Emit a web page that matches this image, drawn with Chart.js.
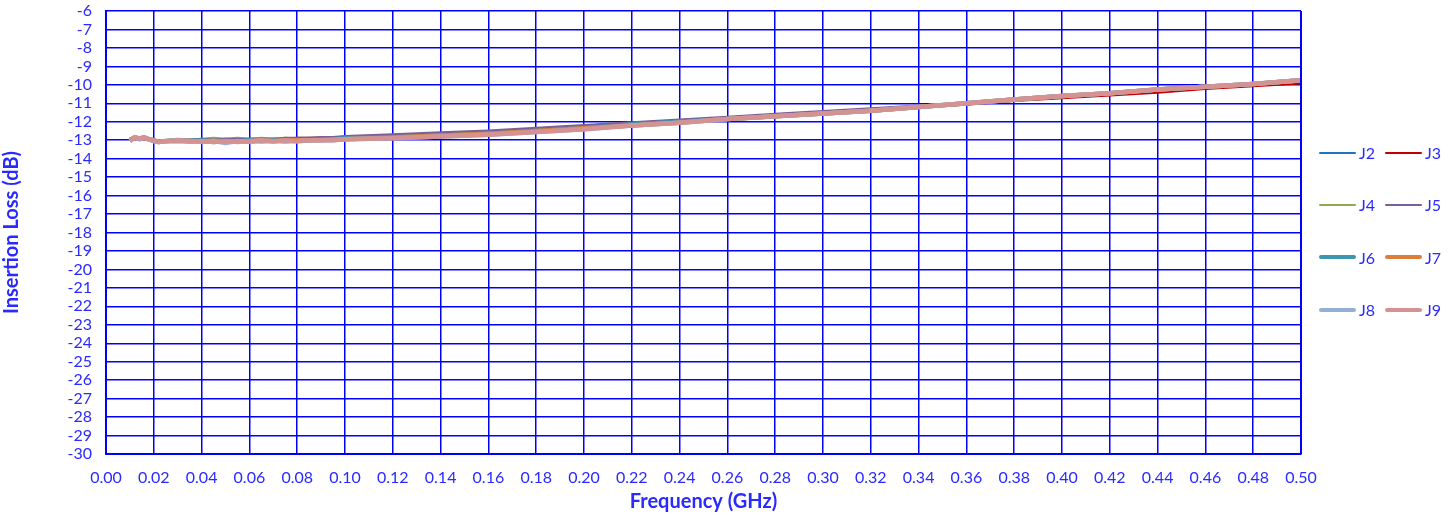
<!DOCTYPE html>
<html>
<head>
<meta charset="utf-8">
<script src="https://cdn.jsdelivr.net/npm/chart.js@4.4.1/dist/chart.umd.min.js"></script>
<style>
    body { margin: 0; background: #ffffff; }
    #wrap { position: relative; width: 1453px; height: 514px; }
    #legendBox { position: absolute; left: 1319px; top: 143px; width: 134px; font-family: Lato, sans-serif; font-size: 16px; color: #2a2aff; }
    .legendItem { position: absolute; height: 20px; line-height: 20px; }
    .legendItem span.mark { position: absolute; left: 0; width: 37px; border-radius: 2px; }
    .legendItem span.txt { position: absolute; left: 40px; top: 0; }
</style>
</head>
<body>
<div id="wrap">
    <canvas id="myChart" width="1453" height="514"></canvas>
    <div id="legendBox"></div>
</div>
<script>
// frequency points (GHz)
const freqList = [0.010,0.012,0.014,0.016,0.018,0.020,0.022,0.025,0.030,0.035,0.040,0.045,0.050,0.055,0.060,0.065,0.070,0.075,0.080,0.085,0.090,0.095,0.100,
    0.120,0.140,0.160,0.180,0.200,0.220,0.240,0.260,0.280,0.300,0.320,0.340,0.360,0.380,0.400,0.420,0.440,0.460,0.480,0.500];

// insertion loss (dB) per port
const lossJ2 = [-12.95,-12.85,-12.90,-12.85,-12.95,-13.00,-13.05,-13.05,-13.00,-13.00,-13.00,-13.05,-13.00,-12.95,-13.00,-12.95,-13.00,-12.95,-12.95,-12.95,-12.90,-12.90,-12.85,
    -12.75,-12.65,-12.55,-12.45,-12.30,-12.15,-11.95,-11.80,-11.65,-11.50,-11.35,-11.20,-11.00,-10.80,-10.65,-10.45,-10.30,-10.10,-9.95,-9.80];
const lossJ3 = [-12.95,-12.85,-12.90,-12.90,-12.95,-13.00,-13.05,-13.05,-13.00,-13.00,-13.00,-13.00,-12.95,-13.00,-12.95,-12.95,-12.95,-12.95,-12.90,-12.90,-12.90,-12.85,-12.85,
    -12.75,-12.65,-12.55,-12.40,-12.25,-12.10,-11.95,-11.80,-11.65,-11.50,-11.35,-11.20,-11.05,-10.85,-10.70,-10.55,-10.40,-10.20,-10.05,-9.90];
const lossJ4 = [-12.95,-12.80,-12.90,-12.85,-12.95,-13.00,-13.05,-13.00,-12.95,-13.00,-12.95,-12.90,-12.95,-12.90,-12.95,-12.90,-12.95,-12.90,-12.95,-12.90,-12.90,-12.85,-12.85,
    -12.75,-12.65,-12.55,-12.40,-12.25,-12.10,-11.95,-11.80,-11.65,-11.50,-11.35,-11.20,-11.00,-10.80,-10.65,-10.45,-10.30,-10.10,-9.95,-9.80];
const lossJ5 = [-12.95,-12.85,-12.90,-12.90,-12.95,-13.00,-13.05,-13.05,-13.00,-13.00,-12.95,-13.00,-12.95,-12.95,-12.95,-12.95,-12.95,-12.90,-12.90,-12.90,-12.85,-12.85,-12.80,
    -12.70,-12.60,-12.50,-12.35,-12.20,-12.05,-11.90,-11.75,-11.60,-11.45,-11.30,-11.15,-11.00,-10.80,-10.65,-10.45,-10.30,-10.10,-9.95,-9.80];
const lossJ6 = [-13.00,-12.85,-12.90,-12.85,-12.95,-13.00,-13.10,-13.05,-13.00,-13.05,-13.00,-13.10,-13.05,-13.05,-13.00,-13.05,-13.00,-13.05,-13.00,-13.00,-12.95,-12.95,-12.90,
    -12.85,-12.75,-12.65,-12.50,-12.35,-12.15,-12.00,-11.85,-11.70,-11.55,-11.40,-11.20,-11.00,-10.80,-10.60,-10.45,-10.25,-10.10,-9.95,-9.75];
const lossJ7 = [-13.00,-12.90,-12.90,-12.90,-12.95,-13.05,-13.10,-13.05,-13.05,-13.05,-13.05,-13.05,-13.10,-13.05,-13.05,-13.00,-13.05,-13.00,-13.00,-13.00,-13.00,-12.95,-12.95,
    -12.85,-12.75,-12.65,-12.50,-12.35,-12.20,-12.05,-11.85,-11.70,-11.55,-11.40,-11.20,-11.00,-10.80,-10.60,-10.45,-10.25,-10.10,-9.95,-9.75];
const lossJ8 = [-13.05,-12.85,-12.95,-12.85,-12.95,-13.05,-13.10,-13.05,-13.00,-13.05,-13.10,-13.05,-13.15,-13.05,-13.10,-13.05,-13.05,-13.05,-13.05,-13.00,-13.00,-13.00,-12.95,
    -12.90,-12.80,-12.70,-12.55,-12.40,-12.20,-12.05,-11.85,-11.70,-11.55,-11.40,-11.20,-11.00,-10.80,-10.60,-10.45,-10.25,-10.10,-9.95,-9.75];
const lossJ9 = [-13.00,-12.85,-12.90,-12.85,-12.95,-13.00,-13.10,-13.05,-13.00,-13.05,-13.05,-13.10,-13.05,-13.10,-13.05,-13.00,-13.05,-13.00,-13.05,-13.00,-13.00,-13.00,-12.95,
    -12.90,-12.80,-12.70,-12.55,-12.40,-12.20,-12.05,-11.85,-11.70,-11.55,-11.40,-11.20,-11.00,-10.80,-10.60,-10.45,-10.25,-10.10,-9.95,-9.75];

const seriesNames = ['J2', 'J3', 'J4', 'J5', 'J6', 'J7', 'J8', 'J9'];
const seriesValues = [lossJ2, lossJ3, lossJ4, lossJ5, lossJ6, lossJ7, lossJ8, lossJ9];
const seriesColors = ['#1f74c2', '#c00000', '#8eaa50', '#7a5f98', '#3c96b0', '#dd7f3a', '#93afd6', '#d69291'];
const seriesWidths = [3, 3, 3, 3, 4.5, 4.5, 4.5, 4.5];

const blue = '#0000ff';
const textBlue = '#2a2aff';

// build datasets, last one (J9) drawn on top
const datasetList = seriesNames.map((name, i) => {
    return {
        label: name,
        data: freqList.map((f, k) => ({ x: f, y: seriesValues[i][k] })),
        borderColor: seriesColors[i],
        backgroundColor: seriesColors[i],
        borderWidth: seriesWidths[i],
        pointRadius: 0,
        tension: 0,
        order: seriesNames.length - i
    };
});

const ctx = document.getElementById('myChart');

mychartView = new Chart(ctx, {
    type: 'line',
    data: { datasets: datasetList },
    options: {
        responsive: false,
        animation: false,
        layout: { autoPadding: false, padding: { top: 11, right: 152, left: 0, bottom: 0 } },
        plugins: {
            legend: { display: false },
            tooltip: { enabled: false }
        },
        scales: {
            x: {
                type: 'linear',
                min: 0,
                max: 0.5,
                ticks: {
                    stepSize: 0.02,
                    autoSkip: false,
                    color: textBlue,
                    font: { family: 'Lato', size: 16 },
                    maxRotation: 0,
                    padding: 14,
                    callback: (v) => v.toFixed(2)
                },
                grid: { color: blue, lineWidth: 1.5, drawTicks: false },
                border: { color: blue, width: 2 },
                title: {
                    display: true,
                    text: 'Frequency (GHz)',
                    color: textBlue,
                    font: { family: 'Lato', size: 20, weight: 'bold' },
                    padding: { top: 0, bottom: 0 }
                },
                afterFit: (scale) => {
                    scale.height = 60;
                    scale.paddingLeft = 0;
                    scale.paddingRight = 0;
                }
            },
            y: {
                min: -30,
                max: -6,
                ticks: {
                    stepSize: 1,
                    autoSkip: false,
                    color: textBlue,
                    font: { family: 'Lato', size: 16 },
                    padding: 14
                },
                grid: { color: blue, lineWidth: 1.5, drawTicks: false },
                border: { color: blue, width: 2 },
                title: {
                    display: true,
                    text: 'Insertion Loss (dB)',
                    color: textBlue,
                    font: { family: 'Lato', size: 20, weight: 'bold' },
                    padding: { top: 0, bottom: 4 }
                },
                afterFit: (scale) => {
                    scale.width = 106;
                    scale.paddingTop = 0;
                    scale.paddingBottom = 0;
                }
            }
        }
    },
    plugins: [{
        // right edge of the plot frame
        id: 'rightFrame',
        afterDraw: (chart) => {
            const a = chart.chartArea;
            const c = chart.ctx;
            c.save();
            c.strokeStyle = blue;
            c.lineWidth = 2;
            c.beginPath();
            c.moveTo(a.right, a.top);
            c.lineTo(a.right, a.bottom);
            c.stroke();
            c.restore();
        }
    }]
});

// html legend, two columns
const legendBox = document.getElementById('legendBox');
seriesNames.forEach((name, i) => {
    const row = Math.floor(i / 2);
    const col = i % 2;
    const item = document.createElement('div');
    item.className = 'legendItem';
    item.style.left = (col * 66) + 'px';
    item.style.top = (row * 52.3) + 'px';
    const mark = document.createElement('span');
    mark.className = 'mark';
    mark.style.background = seriesColors[i];
    mark.style.height = (seriesWidths[i] - 0.5) + 'px';
    mark.style.top = (10 - seriesWidths[i] / 2) + 'px';
    const txt = document.createElement('span');
    txt.className = 'txt';
    txt.textContent = name;
    item.appendChild(mark);
    item.appendChild(txt);
    legendBox.appendChild(item);
});
</script>
</body>
</html>
